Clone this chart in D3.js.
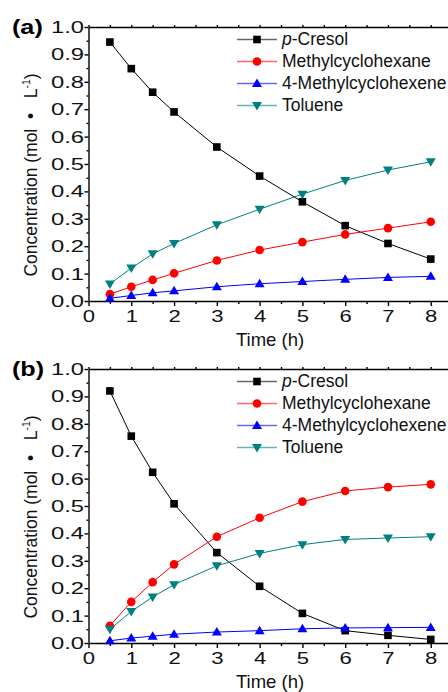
<!DOCTYPE html>
<html>
<head>
<meta charset="utf-8">
<script src="https://cdn.jsdelivr.net/npm/d3@7"></script>
<style>
  body { margin: 0; background: #fff; }
  svg { display: block; font-family: "Liberation Sans", Arial, sans-serif; }
</style>
</head>
<body>
<svg id="chart" width="448" height="692"></svg>
<script>
// time points (h)
var times = [0.5, 1, 1.5, 2, 3, 4, 5, 6, 7, 8];

// panel (a)
var cresolA = [0.945, 0.848, 0.762, 0.690, 0.562, 0.456, 0.362, 0.275, 0.210, 0.153];
var mchA = [0.025, 0.052, 0.077, 0.101, 0.148, 0.186, 0.215, 0.243, 0.266, 0.289];
var mcheA = [0.010, 0.020, 0.030, 0.037, 0.052, 0.063, 0.071, 0.079, 0.086, 0.090];
var tolA = [0.062, 0.120, 0.172, 0.210, 0.278, 0.335, 0.390, 0.440, 0.478, 0.508];

// panel (b)
var cresolB = [0.920, 0.755, 0.623, 0.508, 0.330, 0.207, 0.108, 0.045, 0.028, 0.013];
var mchB = [0.063, 0.150, 0.222, 0.287, 0.388, 0.457, 0.516, 0.555, 0.569, 0.579];
var mcheB = [0.008, 0.018, 0.025, 0.032, 0.040, 0.045, 0.052, 0.055, 0.056, 0.057];
var tolB = [0.050, 0.115, 0.168, 0.213, 0.282, 0.327, 0.359, 0.378, 0.383, 0.388];

var seriesNames = ["p-Cresol", "Methylcyclohexane", "4-Methylcyclohexene", "Toluene"];
var seriesColors = ["#000000", "#ff0000", "#0000ff", "#008080"];
var seriesShapes = ["square", "circle", "triangle", "down"];

var xTicks = [0, 1, 2, 3, 4, 5, 6, 7, 8];
var yTicks = [0, 0.1, 0.2, 0.3, 0.4, 0.5, 0.6, 0.7, 0.8, 0.9, 1.0];

var svg = d3.select("#chart");

var x = d3.scaleLinear().domain([0, 8.5]).range([88.5, 88.5 + 8.5 * 42.78]);
var y = d3.scaleLinear().domain([0, 1]).range([301, 27]);

function marker(sel, shape, color) {
    if (shape == "circle") {
        sel.append("circle").attr("r", 4.3).attr("fill", color);
    } else if (shape == "square") {
        sel.append("rect").attr("x", -3.8).attr("y", -3.8)
            .attr("width", 7.6).attr("height", 7.6).attr("fill", color);
    } else if (shape == "triangle") {
        sel.append("path").attr("d", "M0,-5L5,3.5L-5,3.5Z").attr("fill", color);
    } else {
        sel.append("path").attr("d", "M0,5L5,-3.5L-5,-3.5Z").attr("fill", color);
    }
}

function drawPanel(offsetY, label, data) {
    var g = svg.append("g").attr("transform", "translate(0," + offsetY + ")");

    // minor ticks
    var halves = d3.range(0, 8.51, 0.5);
    var minorX = halves.filter(function (d) { return d % 1 != 0; });
    var minorY = d3.range(0.05, 1, 0.1);

    g.append("g")
        .attr("transform", "translate(0,301)")
        .call(d3.axisBottom(x).tickValues(minorX).tickSize(3).tickSizeOuter(0).tickFormat(""))
        .call(function (a) { a.select(".domain").remove(); });

    g.append("g")
        .attr("transform", "translate(88.5,0)")
        .call(d3.axisLeft(y).tickValues(minorY).tickSize(2).tickSizeOuter(0).tickFormat(""))
        .call(function (a) { a.select(".domain").remove(); });

    // top frame with short ticks
    g.append("g")
        .attr("transform", "translate(0,27)")
        .call(d3.axisTop(x).tickValues(halves).tickSize(2).tickSizeOuter(0).tickFormat(""));

    var xa = g.append("g")
        .attr("class", "axis axis--x")
        .attr("transform", "translate(0,301)")
        .call(d3.axisBottom(x).tickValues(xTicks).tickSize(5).tickSizeOuter(0).tickFormat(d3.format("d")));
    xa.selectAll("text").attr("y", 9).attr("transform", "scale(1.3,1)");

    var ya = g.append("g")
        .attr("class", "axis axis--y")
        .attr("transform", "translate(88.5,0)")
        .call(d3.axisLeft(y).tickValues(yTicks).tickSize(4).tickSizeOuter(0).tickFormat(d3.format(".1f")));
    ya.selectAll("text").attr("x", -3.2).attr("transform", "scale(1.4,1)");

    g.selectAll(".domain, .tick line").attr("stroke", "#000").attr("stroke-width", 1.4);
    g.selectAll(".tick text").attr("font-size", "17px").attr("fill", "#111")
        .attr("font-family", "'Liberation Sans', Arial, sans-serif");

    // series
    var line = d3.line()
        .x(function (d, i) { return x(times[i]); })
        .y(function (d) { return y(d); });

    data.forEach(function (vals, k) {
        g.append("path")
            .attr("d", line(vals))
            .attr("fill", "none")
            .attr("stroke", seriesColors[k])
            .attr("stroke-width", 1);
        g.selectAll(".m" + k)
            .data(vals)
            .enter()
            .append("g")
            .attr("class", "m" + k)
            .attr("transform", function (d, i) { return "translate(" + x(times[i]) + "," + y(d) + ")"; })
            .each(function () { marker(d3.select(this), seriesShapes[k], seriesColors[k]); });
    });

    // legend
    seriesNames.forEach(function (name, k) {
        var base = 45 + k * 22;
        var lg = g.append("g").attr("transform", "translate(0," + (base - 5.5) + ")");
        lg.append("line")
            .attr("x1", 237).attr("x2", 277)
            .attr("stroke", seriesColors[k]).attr("stroke-opacity", 0.6).attr("stroke-width", 1.3);
        marker(lg.append("g").attr("transform", "translate(257,0)"), seriesShapes[k], seriesColors[k]);
        var t = g.append("text")
            .attr("x", 282).attr("y", base)
            .attr("font-size", "17.5px").attr("fill", "#111");
        if (k == 0) {
            t.append("tspan").attr("font-style", "italic").text("p");
            t.append("tspan").text("-Cresol");
        } else {
            t.text(name);
        }
    });

    // panel label
    g.append("text")
        .attr("x", 10).attr("y", 34)
        .attr("font-size", "21px").attr("font-weight", "bold")
        .attr("transform", "scale(1.2,1)")
        .text(label);

    // axis titles
    var yt = g.append("text")
        .attr("transform", "translate(36.5,175) rotate(-90)")
        .attr("text-anchor", "middle")
        .attr("font-size", "17.5px").attr("fill", "#111");
    yt.append("tspan").text("Concentration (mol\u00a0\u00a0\u2022\u00a0\u00a0\u00a0L");
    yt.append("tspan").attr("font-size", "10.5px").attr("dy", "-7").text("-1");
    yt.append("tspan").attr("dy", "7").text(")");

    g.append("text")
        .attr("x", 270).attr("y", 346)
        .attr("text-anchor", "middle")
        .attr("font-size", "18.5px").attr("fill", "#111")
        .text("Time (h)");
}

drawPanel(0, "(a)", [cresolA, mchA, mcheA, tolA]);
drawPanel(342, "(b)", [cresolB, mchB, mcheB, tolB]);
</script>
</body>
</html>
